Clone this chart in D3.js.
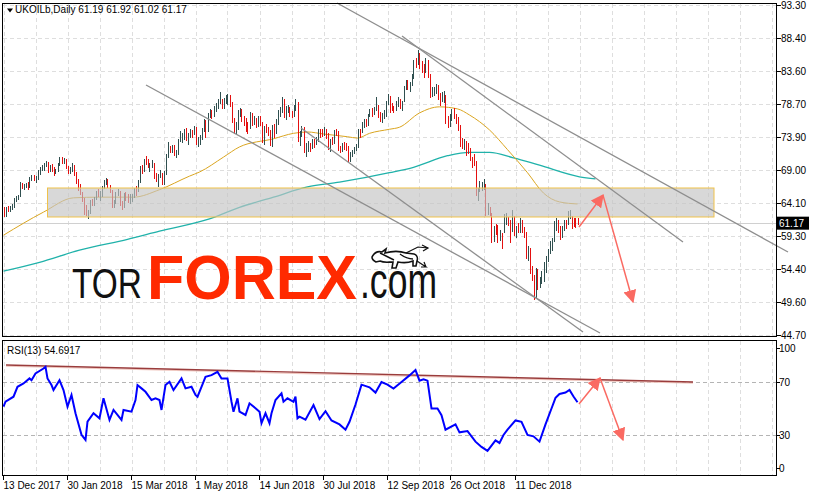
<!DOCTYPE html>
<html><head><meta charset="utf-8">
<script src="https://cdn.jsdelivr.net/npm/d3@7"></script>
<style>
body{margin:0;background:#fff}
svg{display:block}
text{font-family:"Liberation Sans",Arial,sans-serif}
</style>
</head><body>
<svg id="c" width="815" height="496"></svg>
<script>
// ---------------- DATA ----------------
const header = "UKOILb,Daily  61.19 61.92 61.02 61.17";
const rsiTitle = "RSI(13) 54.6917";
const lastPrice = 61.17;

const closes = [
62.44,63.31,63.23,63.41,63.80,64.56,64.90,65.25,67.02,66.44,
66.72,66.87,66.57,67.84,68.07,67.62,67.78,68.82,69.20,69.26,
69.87,70.26,69.15,69.37,69.31,68.61,69.03,69.96,70.53,70.42,
70.52,69.46,69.02,69.05,69.65,68.58,67.62,66.86,65.51,64.81,
62.79,62.59,62.72,64.36,64.33,64.84,65.67,65.25,65.42,66.39,
67.31,67.50,66.63,65.78,63.83,64.37,65.54,65.79,64.34,63.61,
65.49,64.95,64.64,64.89,65.12,66.21,66.05,67.42,69.47,68.91,
70.45,70.12,69.53,69.55,70.27,68.12,68.02,68.33,68.36,67.11,
68.65,71.04,72.06,72.02,72.58,71.42,71.58,73.48,73.78,74.06,
74.71,73.86,74.00,74.74,74.64,75.17,73.13,73.36,73.62,74.87,
76.17,74.85,77.21,77.47,77.12,78.23,78.43,79.28,79.30,78.51,
79.22,79.57,79.80,78.79,76.44,75.30,75.39,77.50,77.59,76.79,
76.46,75.38,75.36,77.32,76.46,76.48,75.88,76.74,75.94,73.44,
75.34,75.08,74.74,73.05,75.55,74.73,76.31,77.62,77.85,79.44,
77.30,77.76,78.24,77.39,77.11,78.07,78.86,73.40,74.45,75.33,
71.84,72.90,72.92,72.58,73.07,73.06,73.44,74.93,74.54,74.29,
74.97,74.25,72.39,73.45,73.21,74.75,74.65,72.28,72.07,72.81,
72.61,72.46,70.76,71.43,71.83,72.21,72.63,74.78,74.73,75.82,
76.21,75.95,77.14,77.77,77.42,78.15,78.17,77.27,76.50,76.83,
77.37,79.06,79.74,78.18,78.09,78.05,79.03,79.40,78.70,78.80,
81.20,81.87,81.34,81.72,82.72,84.98,84.80,86.29,84.58,84.16,
83.91,85.00,83.09,80.26,80.43,80.78,81.41,80.05,79.29,79.78,
79.83,76.44,76.17,76.89,77.62,77.34,76.73,75.47,72.89,72.83,
73.17,72.13,72.07,70.65,70.18,70.12,65.47,66.12,66.62,66.76,
66.79,62.53,63.48,62.60,58.80,60.48,60.21,58.76,59.51,58.71,
61.69,62.08,61.56,60.06,61.67,59.97,60.20,60.15,61.45,60.28,
59.61,56.26,57.24,54.35,53.82,50.47,54.47,52.16,52.20,53.80,
54.91,55.95,57.06,57.33,58.72,61.44,61.68,60.48,59.99,60.64,
61.32,61.18,62.70,62.74,61.50,61.40,61.19,61.17];

const highs = [
63.60,63.53,63.69,63.75,64.05,64.86,65.12,65.38,67.29,67.10,
66.95,67.10,67.29,68.04,68.27,68.20,68.10,69.00,69.37,69.79,
70.05,70.37,70.20,69.75,69.83,69.40,69.15,70.10,70.85,70.90,
70.75,70.60,69.60,69.50,70.00,69.70,68.70,67.70,67.00,65.70,
64.90,63.80,63.15,64.54,64.70,65.00,65.90,66.20,65.90,66.60,
67.50,67.75,67.70,66.80,66.00,64.60,65.70,66.20,65.90,64.50,
65.60,65.70,65.40,65.40,65.40,66.40,66.60,67.60,69.60,69.80,
70.60,71.05,70.55,70.00,70.50,70.10,68.50,68.40,69.00,68.60,
68.80,71.30,73.10,72.60,72.70,72.70,71.90,73.60,74.75,74.40,
75.00,75.20,74.50,75.00,74.90,75.50,75.40,73.90,74.10,75.20,
76.50,76.40,77.40,78.00,77.90,78.45,78.90,79.40,80.50,79.50,
79.60,80.10,80.20,80.00,79.00,76.70,76.00,77.80,78.10,78.00,
77.00,76.60,76.00,77.60,77.40,77.00,76.60,76.90,77.00,76.10,
75.50,75.80,75.40,74.90,75.70,75.80,76.50,77.80,78.30,79.70,
79.50,78.40,78.50,78.30,77.70,78.60,79.40,79.00,74.70,75.50,
75.30,73.00,73.30,73.00,73.50,73.60,73.90,75.10,75.00,75.00,
75.40,75.00,74.40,73.60,73.80,74.90,75.00,74.70,72.60,73.00,
73.10,73.00,72.50,71.60,72.00,72.40,72.90,75.00,75.10,76.00,
76.50,76.50,77.30,78.00,78.20,78.30,79.70,78.50,77.50,77.40,
77.80,79.20,80.13,79.90,78.80,78.40,79.20,79.70,79.50,79.20,
81.40,82.30,82.20,82.00,83.10,85.20,85.50,86.74,86.30,85.00,
84.60,85.50,85.20,83.20,81.20,81.20,81.60,81.50,80.40,80.50,
80.60,80.00,77.00,77.20,78.00,78.20,77.30,76.80,75.60,73.70,
73.50,73.30,73.00,72.30,70.90,71.30,70.30,66.40,67.40,67.30,
67.70,66.90,64.20,63.50,62.70,60.70,61.00,60.90,60.20,59.70,
62.50,62.70,62.10,61.70,63.10,62.20,60.80,61.20,61.90,61.60,
60.60,59.80,57.80,57.50,54.80,53.50,54.50,54.40,53.30,54.10,
55.50,56.30,57.30,58.50,59.00,61.50,61.90,61.70,60.80,60.80,
61.60,61.60,63.00,63.10,62.20,62.00,61.90,61.92];

const lows = [
62.16,62.28,62.98,63.00,63.25,63.62,64.40,64.73,65.10,66.30,
66.25,66.55,66.22,66.50,67.50,67.46,67.28,67.70,68.40,68.95,
68.99,69.60,68.75,68.80,68.85,68.22,68.50,68.85,69.70,70.10,
70.00,69.30,68.50,68.62,68.90,68.20,67.10,66.10,65.40,64.50,
62.50,62.30,61.87,62.60,63.90,63.90,64.70,65.10,64.60,65.20,
66.30,66.90,66.50,65.70,63.60,63.50,64.20,65.35,63.90,63.20,
63.50,64.60,64.30,64.20,64.50,65.00,65.30,65.90,67.30,68.60,
68.80,69.90,69.40,68.90,69.40,67.80,67.40,66.60,67.90,66.90,
67.00,68.40,70.90,71.60,71.70,71.20,70.90,71.40,73.30,73.10,
73.60,73.40,72.90,73.80,73.90,74.30,72.80,72.60,72.90,73.50,
74.70,73.90,74.70,76.80,76.70,76.90,77.70,78.10,78.90,78.20,
78.20,78.80,78.70,78.40,76.10,74.50,74.50,75.10,76.90,76.20,
75.60,74.80,74.40,75.20,75.70,75.80,75.40,75.50,75.70,73.10,
72.90,74.60,74.20,72.70,72.60,73.90,74.40,75.80,76.90,77.60,
76.80,76.50,77.50,76.90,76.80,76.90,77.90,73.20,72.70,74.00,
71.60,71.00,71.80,71.80,72.30,72.40,72.90,73.30,73.90,74.00,
74.10,73.70,72.10,71.80,72.80,73.00,74.10,71.90,71.60,71.80,
72.10,71.90,70.30,70.30,71.00,71.50,71.90,72.40,73.90,74.60,
75.30,75.50,75.70,76.90,77.00,77.20,77.90,76.80,76.20,76.10,
76.70,77.00,78.70,77.60,77.80,77.50,77.90,78.40,78.20,77.80,
79.10,80.90,80.90,80.70,81.50,82.60,84.10,84.60,84.00,83.40,
82.70,83.50,82.70,79.80,79.90,80.00,80.40,79.50,78.60,79.10,
79.00,75.90,75.30,75.50,76.30,76.70,75.90,74.90,72.60,72.20,
72.10,71.20,71.50,70.40,69.50,69.80,65.30,64.60,65.90,66.10,
66.20,62.40,62.50,62.40,58.40,58.60,59.60,58.40,58.70,57.50,
59.80,61.10,60.90,58.40,60.00,59.40,59.10,59.80,59.90,59.80,
59.10,56.10,55.80,53.90,52.80,50.00,50.10,51.50,51.80,52.40,
52.60,54.00,55.60,56.80,57.20,58.50,60.20,59.90,58.80,59.20,
60.20,60.40,61.00,61.90,60.50,60.80,60.60,61.02];

// moving averages (bar index, value)
const maFastIdx = [0,20,35,48,65,78,93,98,110,118,135,145,152,160,172,177,183,193,198,208,218,227,233,243,252,262,270,278,287];
const maFastVal = [59.4,62.8,64.9,65.0,65.0,66.1,68.1,68.7,70.9,72.4,73.6,74.4,74.6,74.3,73.9,73.7,74.4,75.0,75.3,77.4,78.3,78.0,77.1,74.9,72.0,68.6,65.6,64.3,64.0];
const maSlowIdx = [0,18,38,62,78,103,118,135,152,168,193,205,222,233,243,255,268,288,296];
const maSlowVal = [54.1,55.4,57.2,58.8,60.0,61.8,63.5,65.0,66.5,67.2,68.6,69.4,71.1,71.6,71.6,70.8,69.7,68.0,67.7];

// RSI(13) (bar index, value)
const rsiIdx = [0,1,5,7,10,13,14,16,20,21,22,24,25,28,30,32,34,36,39,41,42,45,48,50,53,55,59,60,64,66,67,69,71,74,76,78,79,81,83,85,89,91,94,96,97,99,101,104,107,109,112,114,115,117,118,121,123,126,128,129,131,133,134,136,139,140,142,145,146,147,148,151,155,158,161,164,168,171,173,176,179,183,186,189,192,195,199,203,206,208,210,212,214,217,219,221,226,228,232,236,239,242,246,248,250,252,256,259,262,265,268,271,274,276,278,281,283,285,287];
const rsiVal = [51.4,55.1,58.9,66.4,68.9,72.7,71.4,76.5,80.2,81.4,72.7,67.7,63.9,71.4,63.9,51.4,60.2,46.4,30.1,26.3,40.1,46.4,42.6,57.7,41.4,48.9,41.4,48.9,47.6,56.4,67.7,65.2,62.6,56.4,57.7,56.4,48.9,67.7,70.2,63.9,72.7,65.2,66.4,60.2,58.9,66.4,73.9,75.2,77.7,72.7,72.7,55.1,47.6,57.7,47.6,45.1,53.9,50.2,47.6,38.9,46.4,38.9,46.4,56.4,61.4,55.1,57.7,55.1,58.9,42.6,43.8,41.5,52.6,42.0,48.0,41.0,38.0,34.0,40.0,53.0,68.0,66.0,62.0,70.0,68.0,65.0,70.0,75.0,79.0,71.0,72.0,71.0,50.0,50.0,45.0,34.0,38.0,32.0,33.0,25.0,21.0,18.0,26.0,24.0,30.0,34.0,41.0,40.0,30.0,29.0,25.0,38.0,50.0,58.0,61.0,62.0,64.0,59.0,54.7];

// axis labels
const priceTicks = [93.30,88.40,83.60,78.70,73.90,69.00,64.10,59.30,54.40,49.60,44.70];
const rsiTicks = [100,70,30,0];
const rsiLevels = [70,30];
const dateLabels = ["13 Dec 2017","30 Jan 2018","15 Mar 2018","1 May 2018","14 Jun 2018","30 Jul 2018","12 Sep 2018","26 Oct 2018","11 Dec 2018"];
const dateIdx = [0,32,64,96,128,160,192,224,256];

// drawn objects (bar index, price)
const zoneBox = {i0:22, i1:355.25, top:66.35, bottom:62.08};
const trendLines = [
  [[166.75,93.59],[392.25,56.92]],
  [[199.25,88.73],[339.75,58.40]],
  [[71.25,81.52],[298.25,45.0]],
  [[148.75,75.19],[289.75,45.14]]
];
const rsiTrend = [[1.25,82.8],[344.75,70.0]];
const priceArrows = [[[287.75,60.6],[299.75,65.3]],[[299.75,65.3],[314.75,49.56]]];
const rsiArrows = [[[287.75,53.4],[298.25,73.0]],[[298.25,73.0],[309.75,26.2]]];

// ---------------- DRAW ----------------
const svg = d3.select("#c");
const W = 815, H = 496;
const L = 2.5, R = 776.5;
svg.append("rect").attr("width",W).attr("height",H).attr("fill","#fff");

const x = d3.scaleLinear().domain([0,386.5]).range([3.5,776.5]);
const y = d3.scaleLinear().domain([44.70,93.30]).range([335,5]);
const yr = d3.scaleLinear().domain([0,100]).range([474.75,342.25]);

const mainTop = 3.5, mainBot = 336.5, rsiTop = 340.5, rsiBot = 475.5;

const defs = svg.append("defs");
defs.append("clipPath").attr("id","cm").append("rect").attr("x",L).attr("y",mainTop).attr("width",R-L).attr("height",mainBot-mainTop);
defs.append("clipPath").attr("id","cr").append("rect").attr("x",L).attr("y",rsiTop).attr("width",R-L).attr("height",rsiBot-rsiTop);
const mk = defs.append("marker").attr("id","ah").attr("viewBox","0 0 10 10").attr("refX",9).attr("refY",5)
  .attr("markerWidth",13).attr("markerHeight",13).attr("markerUnits","userSpaceOnUse").attr("orient","auto");
mk.append("path").attr("d","M0,0 L10,5 L0,10 z").attr("fill","#fa6a62");

// grids
const gridX = d3.range(0,386,16).map(i=>Math.round(x(i))+0.5).filter(v=>v>L+1 && v<R);
const gm = svg.append("g").attr("shape-rendering","crispEdges");
gridX.forEach(gx=>{
  gm.append("line").attr("x1",gx).attr("x2",gx).attr("y1",mainTop).attr("y2",mainBot).attr("stroke","#dedede").attr("stroke-dasharray","4,3");
  gm.append("line").attr("x1",gx).attr("x2",gx).attr("y1",rsiTop).attr("y2",rsiBot).attr("stroke","#dedede").attr("stroke-dasharray","4,3");
});
priceTicks.forEach(v=>{
  const gy = Math.round(y(v))+0.5;
  gm.append("line").attr("x1",L).attr("x2",R).attr("y1",gy).attr("y2",gy).attr("stroke","#dedede").attr("stroke-dasharray","4,3");
});
rsiLevels.forEach(v=>{
  const gy = Math.round(yr(v))+0.5;
  gm.append("line").attr("x1",L).attr("x2",R).attr("y1",gy).attr("y2",gy).attr("stroke","#b4b4b4").attr("stroke-dasharray","4,3");
});

// main panel content
const main = svg.append("g").attr("clip-path","url(#cm)");
main.append("line").attr("x1",L).attr("x2",R).attr("y1",Math.round(y(lastPrice))+0.5).attr("y2",Math.round(y(lastPrice))+0.5)
  .attr("stroke","#d0d0d0").attr("shape-rendering","crispEdges");

const lineGen = d3.line().x(d=>x(d[0])).y(d=>y(d[1])).curve(d3.curveMonotoneX);
main.append("path").attr("d",lineGen(maSlowIdx.map((d,k)=>[d,maSlowVal[k]]))).attr("fill","none").attr("stroke","#20b2aa").attr("stroke-width",1.3);
main.append("path").attr("d",lineGen(maFastIdx.map((d,k)=>[d,maFastVal[k]]))).attr("fill","none").attr("stroke","#daa520").attr("stroke-width",1);

const bars = main.append("g").attr("shape-rendering","crispEdges");
closes.forEach((c,i)=>{
  const prev = i>0 ? closes[i-1] : 63.34;
  const bull = c >= prev;
  const bx = Math.round(x(i))+0.5;
  bars.append("line").attr("x1",bx).attr("x2",bx)
    .attr("y1",Math.round(y(highs[i]))).attr("y2",Math.round(y(lows[i]))+1)
    .attr("stroke", bull ? "#2f4f4f" : "#e41010").attr("stroke-width",1);
});

main.append("rect").attr("x",x(zoneBox.i0)).attr("y",y(zoneBox.top)).attr("width",x(zoneBox.i1)-x(zoneBox.i0))
  .attr("height",y(zoneBox.bottom)-y(zoneBox.top)).attr("fill","#c4c4c4").attr("fill-opacity",0.66)
  .attr("stroke","#f0c24a").attr("stroke-width",1);

const tl = d3.line().x(d=>x(d[0])).y(d=>y(d[1]));
trendLines.forEach(seg=>{
  svg.append("path").attr("d",tl(seg)).attr("stroke","#8e8e8e").attr("stroke-width",1.3).attr("fill","none");
});

priceArrows.forEach(seg=>{
  main.append("path").attr("d",tl(seg)).attr("stroke","#fa6a62").attr("stroke-width",1.5).attr("fill","none").attr("marker-end","url(#ah)");
});

// watermark logo (each word scaled horizontally to its width in the reference)
const logo = svg.append("g");
function fitWord(txt, x0, base, width, fam, size, weight, color){
  const g = logo.append("g");
  const t = g.append("text").attr("x",0).attr("y",0).attr("font-family",fam).attr("font-size",size)
    .attr("font-weight",weight).attr("fill",color).text(txt);
  const w = t.node().getComputedTextLength();
  g.attr("transform",`translate(${x0},${base}) scale(${width/w},1)`);
}
fitWord("TOR", 72, 298, 70, "DejaVu Serif", 43, 400, "#111");
fitWord("FOREX", 147, 298.5, 210, "Roboto", 62, 900, "#ff2a00");
fitWord(".com", 360, 298, 77, "DejaVu Serif", 50, 400, "#111");
const bull = logo.append("g").attr("transform","translate(370,245)");
bull.append("path").attr("d","M2,12 C4,8 8,6 12,7 L16,4 L15,8 C22,6 30,6 36,8 L44,9 C47,10 48,13 47,16 L46,21 L43,21 L43,16 C38,18 33,18 28,17 L26,23 L22,23 L23,17 C18,17 14,18 10,16 L6,17 C4,16 2,14 2,12 Z")
  .attr("fill","#fff").attr("stroke","#111").attr("stroke-width",1.6);
bull.append("path").attr("d","M10,8 C14,10 20,13 24,15 M30,9 C34,12 38,14 43,14").attr("stroke","#111").attr("stroke-width",1.4).attr("fill","none");
bull.append("path").attr("d","M36,8 L48,2 L58,3 M52,0 L58,3 L53,6 M47,16 L56,22 L51,22 M56,22 L54,17").attr("stroke","#111").attr("stroke-width",1.2).attr("fill","none");

// RSI panel
const rsiG = svg.append("g").attr("clip-path","url(#cr)");
const rl = d3.line().x(d=>x(d[0])).y(d=>yr(d[1]));
rsiG.append("path").attr("d",rl(rsiTrend.map(d=>[d[0],d[1]-0.9]))).attr("stroke","#f0c8c0").attr("stroke-width",1.2).attr("fill","none");
rsiG.append("path").attr("d",rl(rsiTrend)).attr("stroke","#9a3c3c").attr("stroke-width",1.4).attr("fill","none");
rsiG.append("path").attr("d",rl(rsiIdx.map((d,k)=>[d,rsiVal[k]]))).attr("stroke","#0000ff").attr("stroke-width",2).attr("fill","none").attr("stroke-linejoin","miter");
rsiArrows.forEach(seg=>{
  rsiG.append("path").attr("d",rl(seg)).attr("stroke","#fa6a62").attr("stroke-width",1.5).attr("fill","none").attr("marker-end","url(#ah)");
});

// frames
const fr = svg.append("g").attr("shape-rendering","crispEdges").attr("fill","none").attr("stroke","#000");
fr.append("rect").attr("x",L).attr("y",mainTop).attr("width",R-L).attr("height",mainBot-mainTop);
fr.append("rect").attr("x",L).attr("y",rsiTop).attr("width",R-L).attr("height",rsiBot-rsiTop);

// axes
const ax = svg.append("g");
priceTicks.forEach(v=>{
  const ty = Math.round(y(v))+0.5;
  ax.append("line").attr("x1",R).attr("x2",R+4).attr("y1",ty).attr("y2",ty).attr("stroke","#000").attr("shape-rendering","crispEdges");
  ax.append("text").attr("x",781).attr("y",ty+3.5).attr("font-size",10).attr("fill","#000").text(v.toFixed(2));
});
rsiTicks.forEach(v=>{
  const ty = Math.max(348, Math.min(468, yr(v)));
  ax.append("line").attr("x1",R).attr("x2",R+3).attr("y1",Math.round(ty)+0.5).attr("y2",Math.round(ty)+0.5).attr("stroke","#000").attr("shape-rendering","crispEdges");
  ax.append("text").attr("x",779).attr("y",ty+3.5).attr("font-size",10).attr("fill","#000").text(v);
});
const cy = y(lastPrice);
ax.append("rect").attr("x",777).attr("y",cy-6.5).attr("width",32).attr("height",13).attr("fill","#000");
ax.append("text").attr("x",779).attr("y",cy+3.8).attr("font-size",10).attr("fill","#fff").text(lastPrice.toFixed(2));

dateIdx.forEach((d,k)=>{
  const tx = Math.round(x(d))-0.5;
  ax.append("line").attr("x1",tx).attr("x2",tx).attr("y1",rsiBot).attr("y2",rsiBot+4).attr("stroke","#000").attr("shape-rendering","crispEdges");
  ax.append("text").attr("x",tx).attr("y",488.5).attr("font-size",10).attr("fill","#000").text(dateLabels[k]);
});

svg.append("path").attr("d","M7,8.5 L13,8.5 L10,12.5 Z").attr("fill","#000");
svg.append("text").attr("x",15).attr("y",13).attr("font-size",10).attr("fill","#000").text(header);
svg.append("text").attr("x",7).attr("y",353.5).attr("font-size",10).attr("fill","#000").text(rsiTitle);
</script>
</body></html>
